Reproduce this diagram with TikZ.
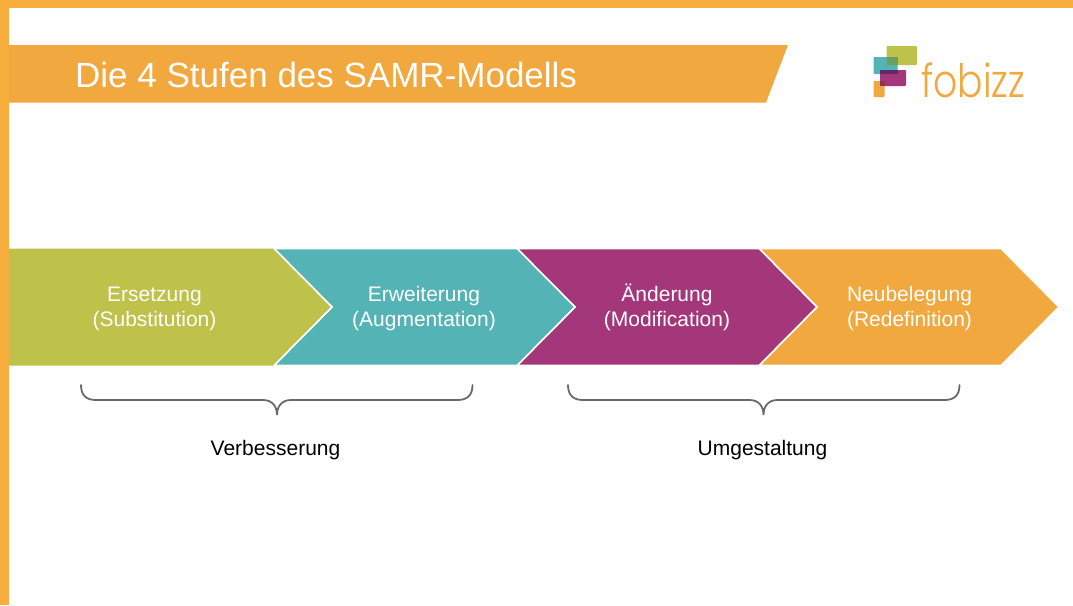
\documentclass[tikz,border=0pt]{standalone}
\usetikzlibrary{calc}
\usepackage{fontspec}
\setmainfont{Liberation Sans}
\newfontfamily\logofont{Poppins Light}
\definecolor{frameor}{HTML}{F8AE3C}
\definecolor{bannor}{HTML}{F0A83F}
\definecolor{limeg}{HTML}{BFC24A}
\definecolor{tealc}{HTML}{54B3B5}
\definecolor{purp}{HTML}{A4367A}
\definecolor{bracegr}{HTML}{6A6A6A}
\definecolor{ovgreen}{HTML}{6C9F5E}
\definecolor{ovpurple}{HTML}{5E2C66}
\definecolor{ovorange}{HTML}{8C3450}
\newcommand{\lnstrut}{\vphantom{Äg(}}
\tikzset{
  stage/.style={draw=white,line width=1.6pt,line join=miter},
  stagetext/.style={text=white,font=\fontsize{21}{24.5}\selectfont,align=center,inner sep=0pt},
  bracelabel/.style={text=black,font=\fontsize{21}{23}\selectfont,inner sep=0pt,anchor=base},
  curlybrace/.style={draw=bracegr,line width=1.8pt,line cap=round},
}
\begin{document}
\begin{tikzpicture}[x=1pt,y=-1pt]
\useasboundingbox (0,0) rectangle (1073,605);
\fill[white] (0,0) rectangle (1073,605);
\fill[frameor] (0,0) rectangle (1073,8);
\fill[frameor] (0,0) rectangle (9,605);
\fill[bannor] (9,45) -- (788,45) -- (766,102.500) -- (9,102.500) -- cycle;
\node[text=white,font=\fontsize{35}{38}\selectfont,anchor=base west,inner sep=0pt] (title) at (75,87) {Die 4 Stufen des SAMR-Modells};
% chevrons
\path[stage,fill=bannor] (759,248.500) -- (1001,248.500) -- (1059,307) -- (1001,365.500) -- (759,365.500) -- (817,307) -- cycle;
\path[stage,fill=purp] (517,248.500) -- (759,248.500) -- (817,307) -- (759,365.500) -- (517,365.500) -- (575,307) -- cycle;
\path[stage,fill=tealc] (274,248.500) -- (517,248.500) -- (575,307) -- (517,365.500) -- (274,365.500) -- (332,307) -- cycle;
\fill[limeg] (9,248.500) -- (274,248.500) -- (332,307) -- (274,365.500) -- (9,365.500) -- cycle;
\draw[white,line width=1.6pt] (274,248.500) -- (332,307) -- (274,365.500);
\node[stagetext] (s1) at (154.500,307.500) {\lnstrut Ersetzung\\\lnstrut (Substitution)};
\node[stagetext] (s2) at (424,307.500) {\lnstrut Erweiterung\\\lnstrut (Augmentation)};
\node[stagetext] (s3) at (667,307.500) {\lnstrut Änderung\\\lnstrut (Modification)};
\node[stagetext] (s4) at (909.500,307.500) {\lnstrut Neubelegung\\\lnstrut (Redefinition)};
% braces
\coordinate (b1l) at (81,385);
\coordinate (b1t) at (277,415);
\coordinate (b1r) at (472.500,385);
\coordinate (b2l) at (568,385);
\coordinate (b2t) at (763.500,415);
\coordinate (b2r) at (959.500,385);
\draw[curlybrace] (b1l) .. controls +(0,10) and +(-10,0) .. ++(15,15) -- ($(b1t)+(-14,-15)$) .. controls +(9,0) and +(0,-9) .. (b1t) .. controls +(0,-9) and +(-9,0) .. ($(b1t)+(14,-15)$) -- ($(b1r)+(-15,15)$) .. controls +(10,0) and +(0,10) .. (b1r);
\draw[curlybrace] (b2l) .. controls +(0,10) and +(-10,0) .. ++(15,15) -- ($(b2t)+(-14,-15)$) .. controls +(9,0) and +(0,-9) .. (b2t) .. controls +(0,-9) and +(-9,0) .. ($(b2t)+(14,-15)$) -- ($(b2r)+(-15,15)$) .. controls +(10,0) and +(0,10) .. (b2r);
\node[bracelabel] (l1) at (275.500,455) {Verbesserung};
\node[bracelabel] (l2) at (762.500,455) {Umgestaltung};
% logo
\fill[limeg,rounded corners=0.8pt] (886.500,46) rectangle (917,65);
\fill[tealc,rounded corners=0.8pt] (873.500,57) rectangle (897.500,74);
\fill[ovgreen] (886.500,57) rectangle (897.500,65);
\fill[purp,rounded corners=0.8pt] (880,70) rectangle (906,86);
\fill[ovpurple] (880,70) rectangle (897.500,74);
\fill[bannor,rounded corners=0.8pt] (873.500,81) rectangle (884.500,97);
\fill[ovorange] (880,81) rectangle (884.500,86);
\node[text=bannor,font=\logofont\fontsize{46}{46}\selectfont,anchor=base west,inner sep=0pt] (logo) at (921,97) {\scalebox{0.82}[1]{fobizz}};
\end{tikzpicture}
\end{document}
